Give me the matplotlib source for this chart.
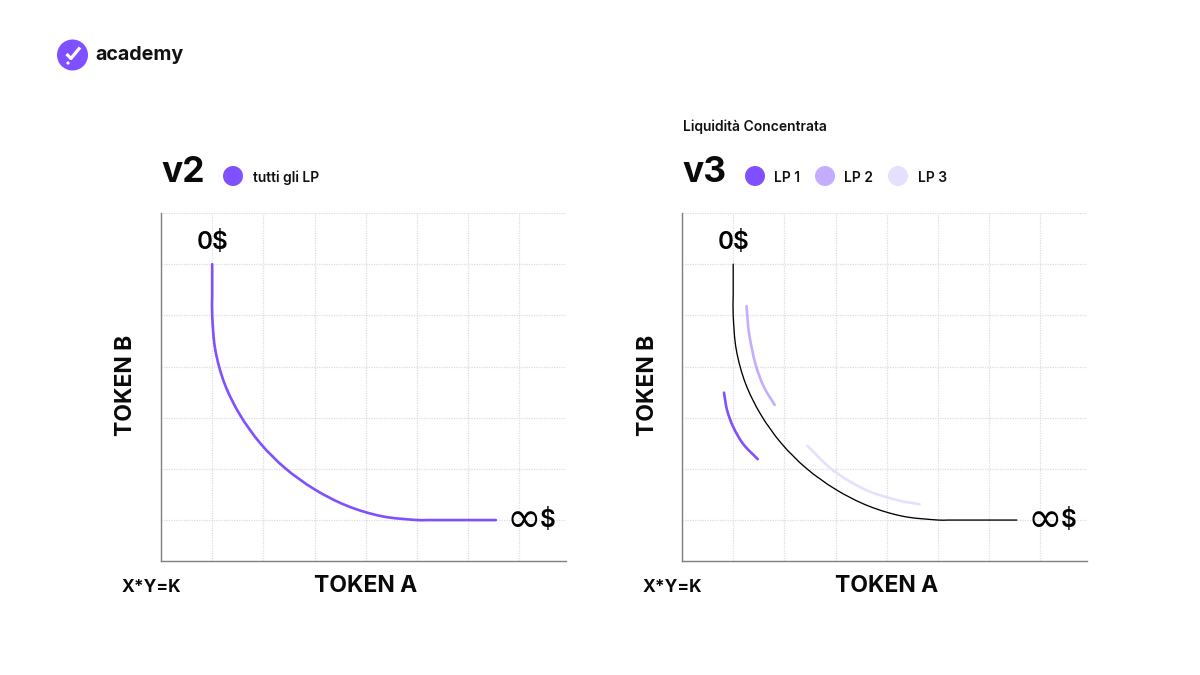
import math
import matplotlib
matplotlib.use("Agg")
import matplotlib.pyplot as plt
from matplotlib.path import Path
from matplotlib.patches import PathPatch, Circle

plt.rcParams['font.family'] = ['Inter', 'DejaVu Sans']

# curve, in grid units
curve_x = [1.0, 1.0, 1.0, 1.06, 1.24, 1.54, 1.94, 2.43, 3.0, 3.63, 4.31, 5.0, 5.2, 6.54]
curve_y = [5.8, 5.2, 4.8, 4.13, 3.47, 2.86, 2.30, 1.81, 1.40, 1.08, 0.875, 0.80, 0.80, 0.80]

lp1_x = [0.82, 0.88, 1.0, 1.2, 1.48]
lp1_y = [3.29, 2.95, 2.62, 2.28, 1.99]
lp2_x = [1.26, 1.31, 1.44, 1.60, 1.81]
lp2_y = [4.98, 4.45, 3.83, 3.40, 3.05]
lp3_x = [2.45, 2.94, 3.59, 4.24, 4.64]
lp3_y = [2.25, 1.78, 1.39, 1.18, 1.11]

grid_x = [1, 2, 3, 4, 5, 6, 7]
grid_y = [0.8, 1.8, 2.8, 3.8, 4.8, 5.8, 6.8]

PURPLE = '#7F50FF'
LP2_COL = '#C4ADFF'
LP3_COL = '#E6DFFF'
W, H = 1200, 675


def smooth(ax, xs, ys, color, lw, zorder=3):
    # bezier through the read points, handles follow the chord length
    pts = list(zip(xs, ys))
    n = len(pts)

    def tangent(i):
        a, b = pts[max(i - 1, 0)], pts[min(i + 1, n - 1)]
        d = math.hypot(b[0] - a[0], b[1] - a[1])
        return (b[0] - a[0]) / d, (b[1] - a[1]) / d

    verts = [pts[0]]
    codes = [Path.MOVETO]
    for i in range(n - 1):
        p1, p2 = pts[i], pts[i + 1]
        t1, t2 = tangent(i), tangent(i + 1)
        h = math.hypot(p2[0] - p1[0], p2[1] - p1[1]) / 3
        verts += [(p1[0] + t1[0] * h, p1[1] + t1[1] * h),
                  (p2[0] - t2[0] * h, p2[1] - t2[1] * h), p2]
        codes += [Path.CURVE4] * 3
    ax.add_patch(PathPatch(Path(verts, codes), fc='none', ec=color, lw=lw,
                           capstyle='round', joinstyle='round', zorder=zorder))


def make_panel(fig, left):
    ax = fig.add_axes([left / W, (H - 561) / H, 405 / W, 348 / H])
    ax.set_xlim(0, 405 / 51.2)
    ax.set_ylim(0, 348 / 51.2)
    ax.set_xticks(grid_x)
    ax.set_yticks(grid_y)
    ax.tick_params(length=0, labelbottom=False, labelleft=False)
    ax.grid(True, color='#dcdcdc', lw=0.9, ls=(0, (1, 1)))
    ax.set_axisbelow(True)
    for s in ['top', 'right']:
        ax.spines[s].set_visible(False)
    for s in ['left', 'bottom']:
        ax.spines[s].set_color('#7f7f7f')
        ax.spines[s].set_linewidth(1.0)
    ax.patch.set_alpha(0)
    return ax


fig = plt.figure(figsize=(W / 100, H / 100), dpi=100, facecolor='white')

ax1 = make_panel(fig, 161)
smooth(ax1, curve_x, curve_y, PURPLE, 1.9)

ax2 = make_panel(fig, 682)
smooth(ax2, lp1_x, lp1_y, PURPLE, 1.9)
smooth(ax2, lp2_x, lp2_y, LP2_COL, 1.9)
smooth(ax2, lp3_x, lp3_y, LP3_COL, 1.9)
smooth(ax2, curve_x, curve_y, 'black', 0.95, zorder=4)

# overlay in pixel coordinates for logo, legend and labels
ov = fig.add_axes([0, 0, 1, 1])
ov.set_xlim(0, W)
ov.set_ylim(H, 0)
ov.axis('off')
ov.patch.set_alpha(0)

ov.add_patch(Circle((72.5, 55), 15.5, fc=PURPLE, ec='none'))
ov.plot([66.5, 71, 80], [54, 58.5, 47.5], color='white', lw=2.3, solid_capstyle='butt')
ov.add_patch(Circle((68, 63), 1.6, fc='white', ec='none'))
ov.text(95.5, 55, 'academy', fontsize=14.2, fontweight='bold', va='center', ha='left', color='#111111')


def panel_text(off, name):
    ov.text(161 + off, 172, name, fontsize=25.5, fontweight='bold', va='center', ha='left', color='#0a0a0a')
    ov.text(212.5 + off, 242.5, '0$', fontsize=17.5, fontweight='semibold', va='center', ha='center', color='black')
    ov.text(541 + off, 520, '∞', fontsize=30, va='center', ha='right', color='black', family=['DejaVu Sans'])
    ov.text(539.5 + off, 520.5, '$', fontsize=17.5, fontweight='semibold', va='center', ha='left', color='black')
    ov.text(366 + off, 586.5, 'TOKEN A', fontsize=16.5, fontweight='bold', va='center', ha='center', color='#0a0a0a')
    ov.text(126.5 + off, 385, 'TOKEN B', fontsize=16.5, fontweight='bold', va='center', ha='center',
            rotation=90, color='#0a0a0a')
    ov.text(151.5 + off, 587, 'X*Y=K', fontsize=12.5, fontweight='bold', va='center', ha='center', color='#0a0a0a')


panel_text(0, 'v2')
panel_text(521, 'v3')

ov.text(683, 127, 'Liquidità Concentrata', fontsize=10, fontweight='semibold', va='center', ha='left', color='#111111')

legend_items = [(233, 'tutti gli LP', 253, PURPLE),
                (755, 'LP 1', 774.5, PURPLE),
                (825, 'LP 2', 844.5, LP2_COL),
                (898, 'LP 3', 917.5, LP3_COL)]
for cx, label, tx, col in legend_items:
    ov.add_patch(Circle((cx, 176), 10, fc=col, ec='none'))
    ov.text(tx, 177.5, label, fontsize=10, fontweight='semibold', va='center', ha='left', color='#111111')

fig.savefig('out.png', dpi=100)
